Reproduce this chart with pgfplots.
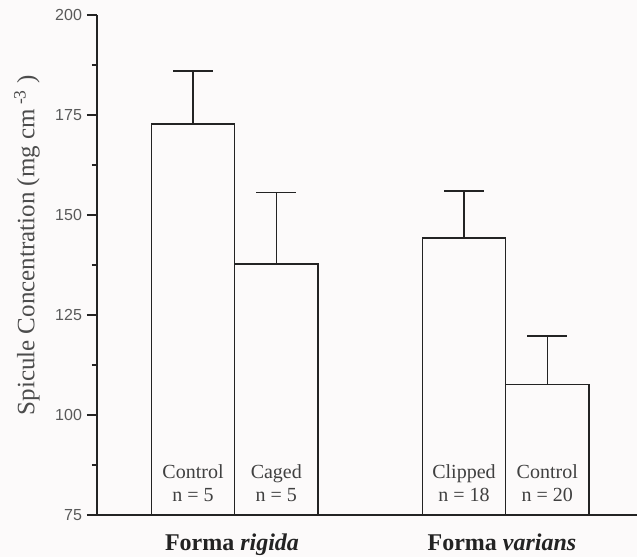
\documentclass[border=0pt]{standalone}
\usepackage{pgfplots}
\pgfplotsset{compat=1.18}
\usepackage{fontspec}
\setmainfont{Liberation Serif}
\newfontfamily\arial{Liberation Sans}
\definecolor{bg}{RGB}{252,250,250}
\definecolor{ink}{RGB}{35,35,35}
\begin{document}
\begin{tikzpicture}
\useasboundingbox[fill=bg] (-48.5pt,-21pt) rectangle (270pt,257.5pt);
\begin{axis}[
  scale only axis, width=270pt, height=250pt,
  xmin=97, xmax=637, ymin=75, ymax=200,
  axis lines=left,
  axis line style={-, line width=0.8pt, ink},
  xtick=\empty,
  ytick={75,100,...,200}, minor y tick num=1,
  tick align=outside, major tick length=5pt, minor tick length=2.5pt,
  tick style={line width=0.7pt, ink},
  /pgf/number format/assume math mode=true,
  yticklabel style={font=\arial\fontsize{8}{9}\selectfont, text=black!65, xshift=1pt},
  clip mode=individual,
]
\addplot[ybar, bar width=83.3, fill=bg, draw=ink, line width=0.7pt,
  error bars/.cd, y dir=plus, y explicit, error mark=|,
  error bar style={line width=0.7pt, ink},
  error mark options={mark size=10pt, line width=0.7pt, ink}]
coordinates {
  (193.0,172.7) +- (0,13.3)
  (276.3,137.7) +- (0,17.9)
  (464.0,144.2) +- (0,11.8)
  (547.3,107.7) +- (0,12.1)
};
\node[xshift=-35pt, rotate=90, font=\fontsize{12.5}{14}\selectfont, text=black!70] at (rel axis cs:0,0.54) {Spicule Concentration (mg cm\,\textsuperscript{-3}\ )};
\begin{scope}[every node/.style={anchor=base, font=\fontsize{10}{12}\selectfont, text=black!75}]
\node at (axis cs:193.0,84.25) {Control};
\node at (axis cs:193.0,78.5) {n = 5};
\node at (axis cs:276.3,84.25) {Caged};
\node at (axis cs:276.3,78.5) {n = 5};
\node at (axis cs:464.0,84.25) {Clipped};
\node at (axis cs:464.0,78.5) {n = 18};
\node at (axis cs:547.3,84.25) {Control};
\node at (axis cs:547.3,78.5) {n = 20};
\end{scope}
\begin{scope}[every node/.style={anchor=base, font=\fontsize{12}{14}\selectfont\bfseries, text=ink}]
\node at (axis cs:232,75) [yshift=-17.5pt] {Forma \textit{rigida}};
\node at (axis cs:502,75) [yshift=-17.5pt] {Forma \textit{varians}};
\end{scope}
\end{axis}
\end{tikzpicture}
\end{document}
